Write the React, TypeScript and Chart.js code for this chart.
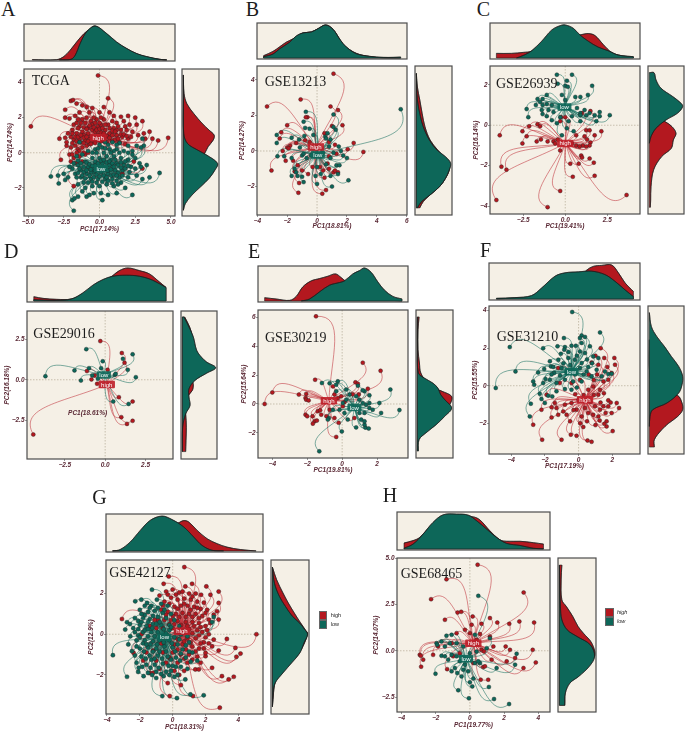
import React, { useEffect, useRef } from "react";
import { Chart, registerables } from "chart.js";

Chart.register(...registerables);

type P = number[][];

// ---------- A / TCGA ----------
const aHigh: P = [[-4.8,1.5],[-0.1,4.4],[0.6,3.1],[-2,2.95],[-1.85,3],[-1.6,2.8],[-2.4,2.45],[-1.2,2.7],[-0.9,2.6],[-0.5,2.55],[0.3,2.6],[-2.4,2],[-2.1,1.95],[-1.7,2.1],[-1.4,2.3],[-0.7,2.3],[0,2.3],[0.7,2.3],[1,2.1],[1.5,2.05],[2,2.1],[2.5,2],[3,1.8],[2.6,1.6],[2.1,1.6],[1.7,1.8],[1.2,1.7],[3.5,1.2],[3.1,1.1],[4.8,0.85],[4.1,0.7],[3.7,0.8],[3.2,0.8],[2.7,1],[2.3,1.2],[1.9,1.3],[1.5,1.3],[-2.8,0.8],[-2.4,0.85],[-2,0.9],[-1.8,0.75],[-1.6,1.1],[-1.9,1.3],[-1.4,1.5],[-1,1.7],[-0.6,1.8],[-0.2,1.9],[0.3,1.9],[0.6,1.6],[1,1.4],[0.7,1.1],[1.2,1],[1.6,0.9],[2,0.8],[0.9,0.7],[0.4,1.3],[-0.1,1.5],[-0.5,1.3],[-0.8,1.1],[-1.2,1.2],[-1.4,0.8],[-1,0.7],[-0.6,0.9],[-1.7,0.4],[-1.5,0.2],[-2,0.3],[-1.2,0.3],[-0.9,0.4],[-2.1,-0.1],[-1.8,-0.3],[-1.4,-0.2],[-2.7,-0.4],[-1.2,-0.5],[-2,-0.5],[-1.6,-0.6],[0.5,-1],[1.6,-1.2],[3,-0.9],[2.4,-0.5],[-1.8,-1.9],[-0.8,1.4],[-0.3,1.2],[0.1,1.6],[-0.4,0.6],[0.2,0.9],[0.5,0.6],[-0.7,0.5],[-1.1,1],[-1.5,1.4],[1.4,0.6],[1.8,0.5],[-1,-0.1],[-0.8,0],[-2.3,0.4],[-0.5,1.6],[0.9,1.8],[-1.2,1.9]];
const aHighCore: P = [[-1.9,1.1],[-1.7,0.9],[-1.5,0.9],[-1.3,1],[-1.1,0.85],[-0.9,0.9],[-0.7,0.75],[-0.5,0.75],[-0.3,0.85],[-0.1,1],[0.1,1.15],[0.3,1.1],[0.5,0.95],[0.7,0.85],[0.9,1],[1.1,0.75],[1.3,0.8],[1.5,1.05],[1.7,1.05],[1.9,0.95],[-1.6,0.65],[-1.3,0.6],[-1.1,0.55],[-0.8,0.65],[-0.6,0.5],[-0.3,0.55],[-0.1,0.7],[0.1,0.65],[0.3,0.7],[-1.8,1.6],[-1.6,1.7],[-1.3,1.7],[-1.1,1.45],[-0.9,1.35],[-0.7,1.55],[-0.4,1.45],[-0.2,1.3],[0,1.35],[0.2,1.4],[0.4,1.6],[0.7,1.4],[0.9,1.25],[1.2,1.3],[-0.3,1.7],[0,1.7],[0.1,2],[-0.4,2],[-0.9,2],[-1.5,1.9],[-2.2,1.1],[-2.3,0.6],[-1.9,0.55],[-1.4,0.1],[-1.1,0],[-1.6,0],[-1.9,-0.1],[1.1,1.2],[1.3,1.5],[2.2,0.9],[1.8,1.5]];
const aLow: P = [[-3.4,-1.35],[-2.9,-1.3],[-2.85,-1.75],[-2.5,-1.2],[-2.2,-1.4],[-2.4,-1.55],[-1.8,-3.3],[-1.9,-2.7],[-1.5,-2.5],[-1.75,-2.6],[-0.9,-2.5],[-0.7,-2.4],[0.2,-2.7],[0.1,-2.3],[0.6,-2.4],[1.2,-2.3],[1.8,-2],[2.3,-2.4],[4.2,-1.15],[3.5,-1.4],[3,-1.5],[2.6,-1.3],[2.9,-0.8],[3.3,-0.7],[-1.4,0.6],[0.4,0.6],[0.9,0.6],[1.4,0.55],[2,0.4],[2.6,0.4],[3,0.8],[3.1,0.4],[2.9,0.3],[2.3,0.1],[1.7,0.1],[1.2,0.2],[0.7,0.2],[0.2,0.3],[-0.3,0.2],[-0.8,0.1],[-1.2,-0.1],[-1.6,-0.2],[2.5,-0.3],[2,-0.4],[1.5,-0.3],[1,-0.2],[0.5,-0.2],[0,-0.3],[-0.5,-0.3],[-1,-0.5],[-1.5,-0.7],[-1.9,-0.9],[-2.1,-0.8],[2.8,-0.6],[2.2,-0.8],[1.7,-0.7],[1.2,-0.6],[0.7,-0.7],[0.2,-0.6],[-0.3,-0.7],[-0.8,-0.8],[-1.3,-1],[-1.7,-1.2],[-1.3,-1.4],[-0.9,-1.2],[-0.4,-1.1],[0.1,-1.1],[0.6,-1.2],[1.1,-1],[1.6,-1],[2.1,-1.1],[2.5,-0.9],[2,-1.4],[1.4,-1.4],[0.9,-1.5],[0.4,-1.5],[-0.1,-1.5],[-0.6,-1.5],[-1.1,-1.7],[-1.5,-1.8],[-1,-2],[-0.5,-1.9],[0,-1.9],[0.5,-1.8],[1,-1.9],[1.5,-1.7],[-0.4,-2.3],[-1.2,-2.2],[0.8,-0.4],[-0.2,0],[0.3,0],[1.3,-1.8],[-1.6,-1.4],[1,0.1],[2.3,-0.1],[-0.6,-1.1]];
const aLowCore: P = [[-1.8,-0.6],[-1.5,-0.45],[-1.3,-0.6],[-1.1,-0.8],[-0.9,-0.55],[-0.7,-0.65],[-0.5,-0.75],[-0.3,-0.5],[-0.1,-0.6],[0.1,-0.45],[0.3,-0.4],[0.5,-0.55],[0.7,-0.5],[0.9,-0.6],[1.1,-0.4],[1.3,-0.7],[1.5,-0.55],[1.8,-0.5],[-1.4,-0.9],[-1.1,-1.1],[-0.9,-1],[-0.6,-0.95],[-0.3,-1],[0,-0.9],[0.2,-0.85],[0.4,-0.95],[0.6,-1],[0.8,-0.95],[1,-0.8],[1.3,-1.15],[1.5,-0.85],[1.8,-0.9],[2,-0.75],[-1.5,-1.15],[-1.2,-1.3],[-1,-1.45],[-0.7,-1.3],[-0.4,-1.4],[-0.2,-1.25],[0,-1.35],[0.3,-1.3],[0.5,-1.4],[0.8,-1.3],[1,-1.25],[1.2,-1.3],[1.6,-1.3],[-0.8,-1.7],[-0.5,-1.65],[-0.2,-1.7],[0.2,-1.65],[0.6,-1.6],[0.9,-1.75],[1.2,-1.6],[-0.1,0.25],[0.4,0.25],[0.8,0],[1.4,0],[2,0],[-0.5,0],[0,0.45],[0.6,0.45],[1.2,0.45]];
const aX = [-5, -2.5, 0, 2.5, 5];
const aY = [-2, 0, 2, 4];
const aTopHigh: P = [[-4.7,0.01],[-3,0.01],[-2.5,0.1],[-2.05,0.29],[-1.6,0.53],[-1.1,0.77],[-0.65,0.92],[-0.3,1],[0.5,0.76],[1.2,0.51],[1.9,0.33],[2.6,0.18],[3.3,0.09],[4.2,0.02],[4.7,0]];
const aTopLow: P = [[-2.8,0],[-2,0.02],[-1.7,0.14],[-1.35,0.49],[-0.9,0.83],[-0.3,1],[0.5,0.78],[1.2,0.53],[1.9,0.34],[2.6,0.19],[3.3,0.1],[4.2,0.02],[4.7,0]];
const aSideHigh: P = [[0,4.43],[0.02,3.38],[0.1,2.8],[0.3,2.24],[0.55,1.67],[0.75,1.29],[0.9,1],[0.87,0.72],[0.72,0.34],[0.62,-0.04],[0.45,-0.42],[0.3,-1.18],[0.1,-1.94],[0.02,-2.7],[0,-3.27]];
const aSideLow: P = [[0,4.43],[0,3],[0.01,1.1],[0.12,0.53],[0.42,0.15],[0.68,-0.13],[1,-0.61],[0.92,-0.99],[0.75,-1.46],[0.5,-1.94],[0.25,-2.41],[0.06,-2.89],[0,-3.27]];

// ---------- B / GSE13213 ----------
const bHigh: P = [[1.1,4.35],[-1.1,2.9],[-3.35,2.5],[0.9,2.5],[1.4,2.3],[-0.65,1.9],[-0.75,1.9],[-2,1.45],[1,1.4],[1.7,1.45],[0.5,1],[-2.4,1.05],[-2.5,0.7],[-0.8,0.6],[-1.4,0.45],[-1.8,0.3],[-2,0.2],[-1.9,0.15],[-2.3,0],[-0.5,0.5],[0.8,0.5],[1.2,0.35],[2.45,0.45],[2.05,0.1],[3.1,-0.05],[1.3,-0.15],[-3.05,-1.1],[-2.1,-0.55],[-1.6,-0.55],[-1.3,-0.8],[-1,-1.1],[-1.5,-1.15],[-1.2,-1.8],[-1.25,-2.35],[-0.6,-1.3],[-0.3,-0.9],[0.2,-0.9],[0.4,-1.1],[0.5,-1.5],[0.6,-2.2],[0.35,-2.4],[1.1,-1.2],[1.4,-1.2],[1.2,-1.1],[0.8,-1],[0.7,-0.7],[0.8,-0.3]];
const bLow: P = [[5.6,2.35],[1.1,2.05],[1.25,1.2],[1.1,1.35],[-0.8,1.3],[-0.5,1.25],[0.7,1],[0.55,0.8],[-0.25,0.9],[-1.7,0.75],[-0.85,0.85],[-1.2,0.65],[-2.7,0.9],[-2.7,0.45],[-0.9,1.65],[-0.75,2.2],[-1.15,0.2],[0.6,0.7],[0.9,0.65],[0.8,0.25],[1.45,0.25],[1.6,0],[-2.65,-0.3],[-2.2,-0.3],[-1.7,-0.4],[-1,-0.25],[-0.9,-0.15],[-0.7,-0.4],[-0.4,-0.25],[0.4,-0.1],[1.1,-0.1],[1.75,-0.25],[2,-0.4],[0.9,-0.4],[1.3,-0.8],[1.5,-0.8],[-1.5,-1],[-1.4,-1.2],[-1.7,-1.4],[-1.3,-1.4],[-1,-1.45],[-0.9,-1.75],[0,-0.9],[-0.1,-1.4],[0,-1.85],[0.25,-1.3],[0.9,-1.4],[1.4,-1.3],[1,-2],[2.1,-1.65],[0.6,-0.75]];
const bX = [-4, -2, 0, 2, 4, 6];
const bY = [-2, 0, 2, 4];
const bTopHigh: P = [[-3.58,0.07],[-2.95,0.2],[-2.5,0.34],[-2.06,0.48],[-1.61,0.58],[-1.27,0.68],[-0.95,0.76],[-0.38,0.79],[0.07,0.89],[0.58,1],[1.07,0.87],[1.74,0.42],[2.19,0.25],[2.64,0.14],[3.09,0.08],[3.98,0.02],[4.87,0],[5.6,0]];
const bTopLow: P = [[-3.58,0.04],[-2.95,0.12],[-2.5,0.28],[-1.83,0.48],[-1.39,0.67],[-0.95,0.76],[-0.38,0.79],[0.07,0.89],[0.58,1],[1.07,0.87],[1.52,0.57],[1.97,0.33],[2.64,0.13],[3.53,0.05],[4.43,0.02],[5.1,0.02],[5.6,0.03]];
const bSideHigh: P = [[0,4.36],[0.03,3.6],[0.1,2.87],[0.17,2.1],[0.25,1.37],[0.4,0.62],[0.62,0.06],[0.95,-0.7],[0.96,-1.07],[0.85,-1.54],[0.68,-2.0],[0.4,-2.47],[0.2,-2.85],[0.1,-3.2]];
const bSideLow: P = [[0,4.36],[0.03,2.87],[0.12,1.93],[0.2,1.37],[0.38,0.62],[0.6,0.06],[0.85,-0.32],[1,-0.69],[0.96,-1.07],[0.85,-1.54],[0.68,-2],[0.4,-2.47],[0.15,-2.85],[0.03,-3.2]];

// ---------- C / GSE26939 ----------
const cHigh: P = [[-3.9,-0.5],[-2.55,-0.3],[-2.55,-0.9],[-3.8,-2.05],[-3.5,-2.2],[-4.1,-3.7],[-1.05,-4.05],[-0.3,-3.25],[3.65,-3.45],[0.45,-2.55],[1.75,-2.5],[0.3,-1.9],[0.8,-1.9],[1.7,-1.85],[1.45,-1.65],[0.95,-1.5],[1,-1.6],[-0.3,-1.25],[-2.15,-0.05],[-1.65,0.05],[-1.5,-0.05],[-2.3,-0.55],[-1.7,-0.8],[-1.45,-0.7],[-1.05,-0.8],[-0.7,-0.8],[-0.6,-0.9],[-0.45,-0.7],[-0.25,0.4],[0,0.4],[-0.3,0.2],[1.5,0.7],[1,0.6],[1.25,-0.25],[1.45,-0.25],[2.15,-0.3],[1.75,-0.5],[0.65,-0.5],[1.15,-0.55],[1.3,-0.7],[1.5,-0.85],[1.45,-1],[1.05,-1],[1.25,-1.05],[0.4,-0.9],[0.65,-1],[0.85,-1.05]];
const cLow: P = [[-0.5,2.5],[0.4,2.5],[0.1,2.2],[-0.45,2.05],[0,1.95],[1.6,1.95],[0.15,1.9],[1.35,1.5],[0.9,1.4],[-1.1,1.5],[-0.2,1.5],[0.6,1.4],[0,1.25],[-1.65,1.3],[-1.35,1.3],[-1.5,1.15],[-1.75,1],[-1.35,1],[-1.1,1.05],[-0.8,1],[-2.3,0.8],[-1.4,0.75],[-1,0.75],[-0.7,0.65],[0.7,0.85],[1.15,0.75],[0.9,0.6],[-2.2,0.4],[-1.35,0.55],[-1.1,0.45],[-0.8,0.25],[-0.5,0.1],[-0.3,0.4],[0.4,0.45],[0.9,0.5],[1.45,0.6],[1.75,0.5],[2.05,0.65],[2.05,0.45],[2.65,0.5],[1.25,0.5],[1.85,0.2],[0.1,-0.15],[-0.2,-0.5],[0.5,-0.3],[0.2,0.2],[0.9,0.2]];
const cX = [-2.5, 0, 2.5];
const cY = [-4, -2, 0, 2];
const cTopHigh: P = [[-4.1,0.14],[-3.2,0.14],[-2.5,0.17],[-2,0.21],[-1.4,0.45],[-0.8,0.6],[0,0.65],[0.87,0.7],[1.37,0.74],[1.77,0.68],[2.26,0.41],[2.76,0.17],[3.35,0.07],[4.06,0.03]];
const cTopLow: P = [[-2.9,0],[-2.4,0.1],[-2,0.22],[-1.4,0.51],[-0.8,0.85],[-0.3,0.98],[0,1],[0.48,0.9],[0.87,0.7],[1.37,0.51],[1.96,0.33],[2.56,0.22],[3.15,0.09],[4.06,0.04]];
const cSideHigh: P = [[0,1.25],[0.1,0.6],[0.3,0.3],[0.47,0.18],[0.68,-0.07],[0.8,-0.4],[0.72,-0.73],[0.66,-1.14],[0.37,-1.55],[0.13,-2.2],[0.05,-3.04],[0.04,-3.7],[0.03,-4.06]];
const cSideLow: P = [[0,2.6],[0.14,2.6],[0.2,2.24],[0.35,1.83],[0.7,1.42],[0.95,1.09],[1,0.92],[0.85,0.6],[0.5,0.26],[0.2,-0.15],[0.05,-0.56],[0,-0.89]];

// ---------- D / GSE29016 ----------
const dHigh: P = [[-0.3,2.4],[1.03,1.66],[1.2,1.05],[0.15,0.62],[-1.13,0.54],[-0.65,0.27],[-0.85,0.02],[-0.5,-0.25],[-4.45,-3.4],[0.85,-1.08],[1.7,-1.35],[1,-2.32],[1.7,-2.55],[1.35,-2.74]];
const dLow: P = [[-1.17,1.9],[1.7,1.58],[1.1,1.3],[-0.15,1.15],[-3.7,0.22],[-1.9,0.58],[-1,0.72],[-0.25,0.72],[1.4,0.62],[0.6,0.3],[0.65,0.37],[-0.8,0.27],[-1.5,-0.05],[-0.45,0.06],[1.9,0.16],[0.5,-1.35],[1.45,-1.5]];
const dX = [-2.5, 0, 2.5];
const dY = [-2.5, 0, 2.5];
const dTopHigh: P = [[-4.42,0.13],[-3.85,0.08],[-3,0.05],[-2.1,0.06],[-1.4,0.2],[-0.35,0.5],[0.47,0.77],[0.88,0.92],[1.4,1],[2.12,0.92],[2.74,0.82],[3.35,0.58],[3.77,0.41]];
const dTopLow: P = [[-4.42,0.04],[-3.85,0.03],[-3,0.02],[-2.1,0.06],[-1.4,0.24],[-0.76,0.48],[-0.14,0.65],[0.47,0.75],[1.3,0.78],[2.12,0.75],[2.94,0.63],[3.77,0.41]];
const dSideHigh: P = [[0.07,3.9],[0.22,3.28],[0.3,2.66],[0.35,1.83],[0.4,0.75],[0.3,-0.04],[0.33,-0.3],[0.3,-0.66],[0.14,-1.08],[0.05,-1.6],[0.1,-2.12],[0.12,-2.95],[0.11,-3.78],[0.1,-4.46]];
const dSideLow: P = [[0.05,3.9],[0.2,3.28],[0.33,2.66],[0.43,1.83],[0.57,1.41],[0.73,1.1],[1,0.75],[0.73,0.41],[0.38,-0.04],[0.2,-0.56],[0.2,-1.08],[0.23,-1.6],[0.1,-2.12],[0.01,-2.95],[0,-4.46]];

// ---------- E / GSE30219 ----------
const eHigh: P = [[-1.5,6.07],[1.18,2.86],[2.2,2.3],[-1.55,1.68],[-4,0.8],[-4.44,0],[-2.48,0.65],[-2.06,0.7],[-2.1,0.42],[-2.06,0.3],[-1.92,0.25],[0.76,1.5],[0.9,1.4],[-0.53,1.22],[1.47,1.06],[0.6,0.67],[0.95,0.65],[-0.44,0.65],[-0.25,0.42],[-0.06,0.53],[-2.1,-0.74],[-2,-0.85],[-1.4,-0.5],[-1.26,-0.44],[-1.2,-0.74],[-1.7,-0.85],[-1.58,-1.2],[-1.45,-1.15],[-1.68,-1.36],[-0.44,-0.97],[-0.2,-1.3],[-0.34,-2.28],[0.7,-0.97],[-0.9,-0.85],[-0.72,-0.4],[0.04,-0.16],[0.13,0.12]];
const eLow: P = [[-1.31,-3.28],[-0.02,-1.9],[0.8,-1.62],[1.33,-1.62],[1.52,-1.7],[1.28,-1.43],[-0.72,1.43],[-0.25,1.57],[-0.34,1.34],[-1.16,1.45],[2.76,1],[3.28,-0.42],[2.23,-0.62],[2.13,0.07],[1.56,0.6],[1.28,0.88],[1.18,0.95],[0.9,1.27],[0.23,1],[-0.34,0.88],[1.56,0.07],[1.37,-0.05],[1.56,-0.28],[1.75,-0.4],[1.18,0.07],[0.99,0.3],[1.28,-0.62],[1.09,-1.08],[0.13,-0.62],[-0.15,-0.4],[-0.53,-0.4],[-0.76,-0.97],[-0.82,-1.08],[0.8,0.53],[0.42,0.65],[0.23,0.3],[1.28,-1.2],[0.99,-0.62],[0.32,-1.08],[0.04,0.07]];
const eX = [-4, -2, 0, 2];
const eY = [-2, 0, 2, 4, 6];
const eTopHigh: P = [[-4.44,0.1],[-3.77,0.06],[-3,0.02],[-2.63,0.14],[-2.25,0.43],[-1.77,0.61],[-1.29,0.68],[-0.82,0.75],[-0.38,0.82],[-0.06,0.71],[0.19,0.6],[0.61,0.45],[1.18,0.3],[1.75,0.15],[2.32,0.05],[3.43,0]];
const eTopLow: P = [[-2.34,0],[-1.87,0.06],[-1.29,0.28],[-0.72,0.48],[-0.15,0.56],[0.13,0.61],[0.61,0.82],[0.99,0.92],[1.28,1],[1.66,0.87],[2.04,0.58],[2.42,0.33],[2.9,0.14],[3.43,0.06]];
const eSideHigh: P = [[0.05,6.03],[0.02,5.15],[0.02,3.76],[0.06,2.84],[0.1,2.15],[0.3,1.45],[0.5,1.1],[0.72,0.88],[1,0.53],[0.97,0.07],[0.75,-0.62],[0.3,-1.55],[0.03,-2.47],[0,-3.26]];
const eSideLow: P = [[0,6.03],[0,3.76],[0.03,2.15],[0.2,1.8],[0.45,1.45],[0.6,1.1],[0.68,0.65],[0.8,0.3],[1,-0.28],[0.8,-0.85],[0.55,-1.43],[0.25,-2],[0.05,-2.47],[0.03,-3.26]];

// ---------- F / GSE31210 ----------
const fHigh: P = [[-2.69,-2.08],[-2.16,-2.88],[-1.01,-2.88],[-0.46,-2.61],[-0.12,-2.67],[0.28,-2.2],[0.53,-2.92],[0.77,-2.99],[2.02,-2.42],[1.66,-2.17],[1.66,-1.9],[1.53,-2.03],[2.4,-1.19],[2.26,-0.92],[1.76,-0.78],[1.96,-1.46],[1.6,-1.46],[1.17,-1.64],[0.87,-1.55],[1.27,-1.28],[1.47,-1.1],[1.76,-1.1],[2.12,1.48],[2.16,1.12],[1.96,0.68],[1.31,2],[1.52,1.48],[1.17,1.12],[0.77,1.24],[1.47,0.23],[1.76,0.32],[1.27,-0.21],[1.17,-0.48],[0.87,-0.04],[0.57,-0.21],[0.08,0.32],[-0.42,0.14],[-1.21,0.94],[-1.11,0.14],[-1.9,-0.48],[-2.2,-1.28],[-1.41,-0.92],[-1.31,-1.19],[-1.6,-1.69],[-1.21,-1.55],[-0.91,-1.37],[-0.71,-1.55],[-0.12,-1.28],[-0.42,-0.92],[-0.81,-1.01],[0.18,-1.64],[0.57,-1.46],[0.97,-1.1],[0.38,-1.19],[0.9,0.3],[1.1,0.6],[1.7,1],[1,1.6],[0.6,0.6],[0.3,-0.5],[0.9,-0.5],[1.5,-0.4],[1.9,-0.9],[1.3,-0.9],[0.7,-0.85],[0,-0.75],[-0.3,-1.3],[-0.5,-1.9],[0.1,-2],[0.5,-1.9],[1,-2.1],[1.25,-1.85],[-1.6,-1.15],[-0.2,-0.45]];
const fLow: P = [[-0.38,3.93],[1.27,2.84],[0.18,2.68],[0.08,2.54],[0.38,2.6],[-4.08,2.06],[-2.1,2],[-0.87,2.54],[-0.81,2.06],[-0.42,2.13],[-0.16,2.13],[-1.25,2.1],[0.18,2.28],[0.67,2.1],[-0.85,1.92],[0.08,1.83],[0.38,1.74],[0.87,1.56],[1.17,1.48],[-1.7,1.3],[-1.2,1.39],[-0.61,1.48],[-0.22,1.39],[0.18,1.21],[-3.74,0.76],[-2.04,0.89],[-1.64,1.03],[-1.45,0.68],[-1.01,0.94],[0.08,0.94],[0.57,1],[1.07,0.85],[1.56,0.76],[1.76,0.62],[1.96,0.64],[-4.91,-0.12],[-2.63,0.05],[-2.69,0.23],[-2.1,0.14],[-1.96,0.36],[-1.7,0.32],[-1.31,0.14],[-0.81,0.32],[-0.32,0.23],[0.18,0.23],[-2.83,-0.96],[-2.89,-1.64],[-2.3,-0.43],[-2.2,-0.71],[-2,-0.92],[-1.8,-0.53],[-1.56,-0.57],[-1.31,-0.3],[-0.81,-0.18],[-0.42,-0.21],[0.48,0.76],[0.77,0.5],[1.37,0.5],[-0.9,1.2],[-0.5,1.1],[-0.1,1.6],[0.5,1.4],[0.8,1.2],[-1.5,1],[-0.7,0.7],[-0.2,0.6],[0.3,0.6],[-1.1,0.55],[-1.6,0.6],[-1.05,1.7],[-0.6,1.8],[-2.4,0.7],[-0.1,-0.1]];
const fX = [-4, -2, 0, 2];
const fY = [-2, 0, 2, 4];
const fTopHigh: P = [[-4.87,0],[-2.2,0.1],[-0.81,0.4],[0,0.6],[0.48,0.85],[0.87,0.96],[1.37,0.99],[1.96,1],[2.36,0.77],[2.76,0.47],[3.15,0.27],[3.25,0.22]];
const fTopLow: P = [[-4.87,0.02],[-3.78,0.04],[-2.79,0.1],[-2.2,0.32],[-1.4,0.67],[-0.81,0.77],[0,0.8],[0.77,0.82],[1.56,0.72],[2.16,0.52],[2.75,0.27],[3.25,0.07]];
const fSideHigh: P = [[0,2.45],[0.01,0.7],[0.15,-0.12],[0.85,-0.52],[0.98,-0.92],[1,-1.28],[0.85,-1.64],[0.58,-2],[0.37,-2.35],[0.15,-2.88],[0.15,-3.27]];
const fSideLow: P = [[0,3.9],[0.06,3.16],[0.22,2.63],[0.45,2.1],[0.66,1.56],[0.88,1.03],[1,0.5],[0.98,0.05],[0.88,-0.39],[0.53,-0.92],[0.1,-1.28],[0.02,-1.64],[0,-2.17]];

// ---------- G / GSE42127 ----------
const gHigh: P = [[0.71,3.3],[-0.24,2.84],[-0.55,2.48],[1.18,2.48],[2.05,2.35],[2.8,2.1],[0.77,2.35],[1.73,1.94],[2.3,1.94],[2.8,1.54],[2.7,1.13],[2.5,0.96],[2.2,0.72],[2.8,0.72],[5.1,0],[3.3,-0.23],[2.5,-0.26],[2.2,0],[3.82,-0.67],[4.13,-0.95],[3.88,-1.11],[2.4,-1.65],[3,-2.06],[3.41,-2.22],[3.72,-2.09],[2.87,-3.61],[1.24,-3.04],[-0.18,-3.04],[-3.09,0.75],[-2.38,-0.92],[-1.42,-1.9],[1.38,-1.73],[1.59,-1.73],[2,-1.08],[2,-0.92],[0,2.2],[-0.4,2.1],[0.4,2.05],[1,2],[1.4,2],[-0.1,1.8],[0.3,1.7],[0.7,1.75],[1.1,1.7],[1.5,1.6],[1.9,1.55],[-0.5,1.6],[-0.2,1.5],[0.1,1.35],[0.5,1.4],[0.9,1.4],[1.3,1.35],[1.7,1.25],[2.1,1.2],[-0.7,1.2],[-0.3,1.1],[0.2,1],[0.6,1.05],[1,1],[1.4,1],[1.8,0.9],[-0.9,0.7],[-0.5,0.7],[-0.1,0.7],[0.3,0.65],[0.8,0.6],[1.2,0.6],[1.6,0.55],[2,0.4],[-1.4,0.4],[-1,0.3],[0,0.3],[1,0.25],[1.5,0.2],[1.8,0.1],[-1.9,0],[-0.5,-0.2],[0.9,-0.2],[1.4,-0.2],[1.9,-0.4],[0.1,-0.5],[0.6,-0.5],[1.2,-0.6],[1.6,-0.7],[2.4,-0.6],[2.8,-0.8],[-1.2,-0.8],[-0.6,-0.9],[0,-0.9],[0.5,-1],[1,-1],[1.5,-1.1],[-1.8,-1.3],[-1,-1.3],[-0.4,-1.4],[0.3,-1.4],[0.9,-1.4],[-0.8,-1.7],[0.1,-1.8],[0.7,-1.8]];
const gHighCore: P = [[-0.8,1.9],[-0.3,1.95],[0.2,1.95],[0.6,2.1],[1.2,1.85],[-0.6,1.4],[0.3,1.25],[0.7,1.5],[1.1,1.2],[1.5,1.3],[2,1.05],[-0.4,0.95],[0,0.9],[0.4,0.85],[0.8,0.85],[1.2,0.85],[1.6,0.8],[2.3,0.55],[0.1,0.5],[0.5,0.45],[0.9,0.4],[1.3,0.4],[1.7,0.35],[2.1,0.2],[0.4,0.1],[1.2,0.05],[1.6,-0.05],[2,-0.15],[0.3,-0.25],[0.7,-0.35],[1.1,-0.4],[1.7,-0.45],[2.2,-0.45],[0.3,-0.75],[0.8,-0.75],[1.4,-0.85],[1.9,-0.7],[-0.2,-1.15],[0.7,-1.2],[1.2,-1.25],[1.7,-1.4],[-0.7,-0.45],[-1.6,-0.9],[-0.2,0.5],[-0.6,0.3],[-1.1,0.7],[-1.2,-1.9],[0.4,-2],[-0.3,-2.4],[0.5,-2.5]];
const gLow: P = [[-3.64,-1.03],[-2.78,-2.09],[-2.28,1.62],[-1.91,1.7],[-1.56,1.54],[-1.26,2.19],[-0.96,1.7],[-2.78,0.59],[-2.89,0.23],[-2.48,-0.83],[-2.58,-0.1],[-2.07,-1.65],[-1.77,-2.06],[-0.63,-3.04],[0.26,-3.14],[1.08,-2.96],[1.89,-3],[0.77,-2.22],[-0.55,-2.06],[-1.7,1.4],[-1.3,1.4],[-0.7,1.5],[-0.3,1.4],[-2,1.2],[-1.5,1.1],[-1.1,1.15],[-0.6,1.05],[-0.1,1],[-2.3,0.8],[-1.8,0.8],[-1.4,0.75],[-0.9,0.85],[-0.4,0.8],[0.1,0.7],[-2.6,0.5],[-2,0.45],[-1.6,0.4],[-1.2,0.5],[-0.7,0.45],[-0.2,0.45],[2.5,0.85],[2.4,0.6],[-2.3,0.1],[-1.8,0.1],[-1.3,0.1],[-0.9,0.1],[-0.4,0.05],[0.2,0.1],[-2.2,-0.3],[-1.7,-0.3],[-1.2,-0.35],[-0.8,-0.3],[-0.2,-0.3],[0.4,-0.25],[1,-0.4],[-2,-0.7],[-1.5,-0.65],[-1,-0.7],[-0.5,-0.6],[0,-0.65],[0.6,-0.75],[1.2,-0.9],[-1.9,-1.1],[-1.4,-1.05],[-0.9,-1.05],[-0.3,-1.1],[0.2,-1.15],[0.8,-1.15],[-2.2,-1.4],[-1.6,-1.5],[-1.1,-1.5],[-0.6,-1.45],[0,-1.55],[0.5,-1.6],[-1.5,-1.9],[-1,-1.85],[-0.4,-1.85],[0.3,-2],[-2.1,-0.05],[-1,-2.15],[-0.2,-2],[0.9,-0.1],[-1.5,-0.1],[-0.6,-0.1],[0.7,0.2],[-2.7,-0.5],[1.5,-1.3],[-1.3,-1.25],[-1.8,-0.45],[-0.1,-1.8],[0.9,-1.7],[-0.8,0.6],[-1.7,0.95],[-0.2,0.2]];
const gLowCore: P = [[-2.4,0.3],[-2.1,0.65],[-1.9,0.6],[-1.5,0.6],[-1.25,0.3],[-1,0.5],[-0.55,0.25],[-0.1,0.35],[-2.1,0.25],[-1.7,0.2],[-1.5,0.25],[-1.1,-0.1],[-0.7,-0.1],[-0.3,-0.1],[0.1,-0.15],[0.5,0],[-2,-0.15],[-1.6,-0.5],[-1.35,-0.5],[-0.95,-0.5],[-0.55,-0.4],[-0.05,-0.45],[0.3,-0.5],[0.8,-0.55],[-2.2,-0.6],[-1.75,-0.85],[-1.2,-0.85],[-0.8,-0.85],[-0.4,-0.85],[0.15,-0.85],[0.5,-0.95],[1,-0.85],[-2.3,-1.05],[-1.65,-1.2],[-1.1,-1.2],[-0.65,-1.2],[-0.1,-1.25],[0.45,-1.3],[1.1,-1.35],[-1.85,-1.6],[-1.35,-1.65],[-0.85,-1.65],[-0.25,-1.55],[0.2,-1.6],[-1.25,-2],[-0.7,-1.95],[0.1,-2.1],[-1.4,1.3],[-0.9,1.3],[-1.9,1],[-1.2,0.9],[-0.5,1.2],[-2.1,-1.85],[0.4,0.4]];
const gX = [-4, -2, 0, 2, 4];
const gY = [-2, 0, 2];
const gTopHigh: P = [[-3.66,0],[-2.6,0.03],[-1.56,0.2],[-0.55,0.5],[0.06,0.75],[0.33,0.8],[0.67,0.87],[0.98,0.83],[1.49,0.59],[2.1,0.35],[2.7,0.21],[3.31,0.11],[4.13,0.04],[5.08,0]];
const gTopLow: P = [[-3.66,0],[-3.2,0.04],[-2.58,0.26],[-1.97,0.59],[-1.36,0.88],[-0.65,1],[-0.04,0.9],[0.67,0.69],[1.28,0.4],[1.79,0.16],[2.4,0.02],[3.1,0]];
const gSideHigh: P = [[0,3.3],[0.12,2.68],[0.3,2.03],[0.45,1.54],[0.62,1.05],[0.8,0.56],[0.93,0.23],[1,0],[0.75,-0.92],[0.4,-1.4],[0.1,-2.2],[0,-3.56]];
const gSideLow: P = [[0,3.3],[0.06,2.5],[0.2,1.86],[0.37,1.37],[0.57,0.88],[0.77,0.56],[0.92,0.23],[1,0],[0.9,-0.42],[0.78,-0.92],[0.55,-1.4],[0.3,-1.9],[0.08,-2.39],[0.02,-2.88],[0,-3.56]];

// ---------- H / GSE68465 ----------
const hHigh: P = [[0.45,4.64],[-1.37,3.85],[-2.27,2.78],[3.14,3.14],[3.75,1.52],[2.89,1.58],[2.3,1.45],[1.6,1.52],[1.17,1.76],[0.68,1.45],[0.16,1.85],[-0.51,2.1],[-0.72,2.06],[-1.46,1.67],[0.1,1.4],[-0.29,1.13],[0,0.95],[0.59,0.9],[1.17,0.77],[-0.78,0.95],[3.67,0.05],[2.09,0.23],[2.34,0.05],[1.37,0.23],[0.68,0.05],[0.82,-0.04],[2.64,-0.39],[3.85,-0.63],[3.13,-0.93],[2.15,-0.57],[-2.93,-0.22],[-2.87,-0.27],[-2.73,-0.48],[-2.85,-0.86],[-2.15,-0.22],[-1.86,0.23],[-1.33,-0.99],[-0.59,-0.13],[0.78,-0.88],[0.88,-0.84],[0.2,-0.66],[1.07,-1.56],[0.63,-1.56],[-1.07,0.41],[-0.98,-0.3],[1.27,-0.48],[0.39,0.59]];
const hLow: P = [[0.49,2.96],[2.29,-2.87],[1.41,-2.6],[-0.06,-2.56],[-0.68,-2.13],[-2.01,-1.24],[0.14,-1.92],[0,-1.7],[0.2,-1.5],[1.11,-1.95],[-0.49,-1.38],[-0.74,-1.2],[-1.07,-1.11],[-0.39,-1.02],[-0.1,-1.11],[-1.37,0.81],[-1.07,0.86],[0.29,0.86],[1.17,0.68],[-1.95,0.41],[-1.91,0.32],[-1.66,0.5],[-1.46,0.23],[-1.17,0.41],[-0.78,0.41],[2.73,-0.16],[2.64,-0.75],[1.56,-0.93],[0.59,-0.66],[-1.66,-0.27],[-1.46,-0.3],[-1.27,-0.48],[-1.07,-0.22],[-0.78,-0.3],[-0.88,-0.93],[-0.59,-0.57],[-0.29,-0.75],[0.29,-0.66],[0.49,-0.57],[0.39,-0.04],[0.98,0.14],[-0.39,0.23],[0,-0.13]];
const hX = [-4, -2, 0, 2, 4];
const hY = [-2.5, 0, 2.5, 5];
const hTopHigh: P = [[-3.85,0.17],[-3.32,0.24],[-2.93,0.33],[-2.16,0.7],[-0.78,0.95],[0.2,0.92],[0.59,0.83],[1.17,0.52],[1.76,0.26],[2.15,0.22],[2.93,0.22],[3.71,0.18],[4.3,0.14]];
const hTopLow: P = [[-3.85,0.02],[-3.32,0.14],[-2.73,0.43],[-2.16,0.76],[-1.56,0.98],[-0.78,1],[-0.1,0.97],[0.39,0.81],[0.98,0.57],[1.56,0.33],[2.15,0.16],[2.93,0.1],[3.71,0.02],[4.3,0]];
const hSideHigh: P = [[0.07,4.62],[0.05,3.82],[0.07,2.74],[0.2,2.38],[0.38,1.85],[0.53,1.31],[0.68,0.95],[0.92,0.41],[1,-0.3],[0.45,-1.2],[0.18,-2],[0.15,-2.94]];
const hSideLow: P = [[0,4.62],[0.03,2.38],[0.07,1.67],[0.22,1.13],[0.5,0.77],[0.88,0.32],[1,-0.3],[0.85,-0.84],[0.55,-1.38],[0.3,-1.74],[0.17,-2.28],[0.15,-2.94]];

const seriesNames = ["high", "low"];
const RED = "#B3181F";
const GREEN = "#0D6759";
const RED_LINE = "rgba(190,45,55,0.78)";
const GREEN_LINE = "rgba(20,110,95,0.78)";
const PANEL_BG = "#F5F0E6";
const FRAME = "#4C4C4C";
const AXIS_TEXT = "#5B2A36";
const SANS = "'Liberation Sans', Arial, sans-serif";
const SERIF = "'Liberation Serif', 'Times New Roman', serif";

type Panel = {
  letter: string; name: string; xTitle: string; yTitle: string;
  high: P; low: P; xTicks: number[]; yTicks: number[]; xDigits: number; yDigits: number;
  topHigh: P; topLow: P; sideHigh: P; sideLow: P;
  highAt: number[]; lowAt: number[];
  plot: number[]; topY: number[]; sideX: number[];
  xr: number[]; yr: number[];
  letterAt: number[]; nameAt: number[];
  yTitleOff: number; xTitleOff: number; xTitleInside?: number[]; r?: number;
};

const PANELS: Panel[] = [
  { letter: "A", name: "TCGA", xTitle: "PC1(17.14%)", yTitle: "PC2(14.74%)", high: [...aHigh, ...aHighCore], low: [...aLow, ...aLowCore], xTicks: aX, yTicks: aY, xDigits: 1, yDigits: 0,
    topHigh: aTopHigh, topLow: aTopLow, sideHigh: aSideHigh, sideLow: aSideLow, highAt: [-0.1, 0.85], lowAt: [0.1, -0.9],
    plot: [24, 69, 175, 216], topY: [24, 61], sideX: [182, 219], xr: [-5.28, 5.28], yr: [-3.6, 4.77], letterAt: [1, 15.5], nameAt: [31.7, 86], yTitleOff: 14, xTitleOff: 13, r: 2.1 },
  { letter: "B", name: "GSE13213", xTitle: "PC1(18.81%)", yTitle: "PC2(14.27%)", high: bHigh, low: bLow, xTicks: bX, yTicks: bY, xDigits: 0, yDigits: 0,
    topHigh: bTopHigh, topLow: bTopLow, sideHigh: bSideHigh, sideLow: bSideLow, highAt: [-0.08, 0.22], lowAt: [0.05, -0.22],
    plot: [257, 66, 407.3, 215], topY: [23, 59], sideX: [415, 452], xr: [-4.02, 6.02], yr: [-3.6, 4.78], letterAt: [245.7, 15.7], nameAt: [264.7, 87], yTitleOff: 14.3, xTitleOff: 11.7 },
  { letter: "C", name: "GSE26939", xTitle: "PC1(19.41%)", yTitle: "PC2(16.14%)", high: cHigh, low: cLow, xTicks: cX, yTicks: cY, xDigits: 1, yDigits: 0,
    topHigh: cTopHigh, topLow: cTopLow, sideHigh: cSideHigh, sideLow: cSideLow, highAt: [0, -0.9], lowAt: [-0.05, 0.9],
    plot: [490, 66, 640, 214], topY: [22.7, 58.3], sideX: [647.7, 684], xr: [-4.48, 4.45], yr: [-4.39, 2.93], letterAt: [476.7, 16], nameAt: [496, 88.7], yTitleOff: 14, xTitleOff: 12.7 },
  { letter: "D", name: "GSE29016", xTitle: "PC1(18.61%)", yTitle: "PC2(16.18%)", high: dHigh, low: dLow, xTicks: dX, yTicks: dY, xDigits: 1, yDigits: 1,
    topHigh: dTopHigh, topLow: dTopLow, sideHigh: dSideHigh, sideLow: dSideLow, highAt: [0.1, -0.3], lowAt: [-0.08, 0.3],
    plot: [27.3, 310.7, 173.7, 458.3], topY: [266, 302.3], sideX: [181, 217.3], xr: [-4.84, 4.2], yr: [-4.92, 4.27], letterAt: [4, 257.3], nameAt: [33.3, 339], yTitleOff: 20, xTitleOff: 13, xTitleInside: [-1.09, -2.1] },
  { letter: "E", name: "GSE30219", xTitle: "PC1(19.81%)", yTitle: "PC2(15.64%)", high: eHigh, low: eLow, xTicks: eX, yTicks: eY, xDigits: 0, yDigits: 0,
    topHigh: eTopHigh, topLow: eTopLow, sideHigh: eSideHigh, sideLow: eSideLow, highAt: [-0.76, 0.23], lowAt: [0.7, -0.25],
    plot: [258.3, 310.3, 408.7, 458.3], topY: [266, 302.3], sideX: [416.3, 453.3], xr: [-4.82, 3.77], yr: [-3.74, 6.51], letterAt: [248, 257.3], nameAt: [265, 342.3], yTitleOff: 14, xTitleOff: 12.3 },
  { letter: "F", name: "GSE31210", xTitle: "PC1(17.19%)", yTitle: "PC2(15.55%)", high: fHigh, low: fLow, xTicks: fX, yTicks: fY, xDigits: 0, yDigits: 0,
    topHigh: fTopHigh, topLow: fTopLow, sideHigh: fSideHigh, sideLow: fSideLow, highAt: [0.38, -0.75], lowAt: [-0.42, 0.75],
    plot: [489.3, 306.3, 640, 454.3], topY: [262.7, 299.3], sideX: [647.7, 684], xr: [-5.31, 3.64], yr: [-3.64, 4.25], letterAt: [480, 257], nameAt: [496.7, 341.7], yTitleOff: 13.6, xTitleOff: 12.3 },
  { letter: "G", name: "GSE42127", xTitle: "PC1(18.31%)", yTitle: "PC2(12.9%)", high: [...gHigh, ...gHighCore], low: [...gLow, ...gLowCore], xTicks: gX, yTicks: gY, xDigits: 0, yDigits: 0,
    topHigh: gTopHigh, topLow: gTopLow, sideHigh: gSideHigh, sideLow: gSideLow, highAt: [0.57, 0.15], lowAt: [-0.5, -0.15],
    plot: [105.7, 560.3, 262.7, 714.7], topY: [514.3, 552.3], sideX: [270.7, 309], xr: [-4.06, 5.5], yr: [-3.92, 3.65], letterAt: [92.3, 504], nameAt: [109.3, 578], yTitleOff: 15, xTitleOff: 13.3, r: 2.1 },
  { letter: "H", name: "GSE68465", xTitle: "PC1(19.77%)", yTitle: "PC2(14.07%)", high: hHigh, low: hLow, xTicks: hX, yTicks: hY, xDigits: 0, yDigits: 1,
    topHigh: hTopHigh, topLow: hTopLow, sideHigh: hSideHigh, sideLow: hSideLow, highAt: [0.2, 0.41], lowAt: [-0.23, -0.43],
    plot: [397.3, 558, 550, 712.3], topY: [512, 550], sideX: [558, 595.7], xr: [-4.26, 4.68], yr: [-3.3, 5.0], letterAt: [382.7, 501.3], nameAt: [400.7, 578.3], yTitleOff: 20.6, xTitleOff: 13 },
];

// Frame and cream background of each plot box
const framePlugin = {
  id: "frame",
  beforeDraw(chart: any) {
    const a = chart.chartArea;
    chart.ctx.save();
    chart.ctx.fillStyle = PANEL_BG;
    chart.ctx.fillRect(a.left, a.top, a.width, a.height);
    chart.ctx.restore();
  },
  afterDraw(chart: any) {
    const a = chart.chartArea;
    const c = chart.ctx;
    c.save();
    c.strokeStyle = FRAME;
    c.lineWidth = 1.2;
    c.strokeRect(a.left, a.top, a.width, a.height);
    c.restore();
  },
};

// Filled density area under each dataset's own line element
const areaPlugin = {
  id: "area",
  beforeDatasetDraw(chart: any, args: any) {
    const ds = chart.data.datasets[args.index];
    const meta = args.meta;
    const line = meta.dataset;
    if (!line || !ds.areaColor) return;
    const c = chart.ctx;
    const pts = meta.data;
    line.updateControlPoints(chart.chartArea);
    c.save();
    c.beginPath();
    line.path(c);
    const last = pts[pts.length - 1];
    const first = pts[0];
    if (ds.sideways) {
      const bx = chart.scales.x.getPixelForValue(0);
      c.lineTo(bx, last.y);
      c.lineTo(bx, first.y);
    } else {
      const by = chart.scales.y.getPixelForValue(0);
      c.lineTo(last.x, by);
      c.lineTo(first.x, by);
    }
    c.closePath();
    c.fillStyle = ds.areaColor;
    c.fill();
    c.strokeStyle = "#1d1d1d";
    c.lineWidth = 0.6;
    c.stroke();
    c.restore();
  },
};

// Curved links from each group's centre to its points, reference lines, centre tags
const spiderPlugin = {
  id: "spider",
  beforeDatasetsDraw(chart: any) {
    const c = chart.ctx;
    const a = chart.chartArea;
    const sx = chart.scales.x;
    const sy = chart.scales.y;
    c.save();
    c.strokeStyle = "rgba(185,175,155,0.95)";
    c.lineWidth = 0.8;
    c.setLineDash([1.5, 1.5]);
    c.beginPath();
    c.moveTo(sx.getPixelForValue(0), a.top);
    c.lineTo(sx.getPixelForValue(0), a.bottom);
    c.moveTo(a.left, sy.getPixelForValue(0));
    c.lineTo(a.right, sy.getPixelForValue(0));
    c.stroke();
    c.setLineDash([]);
    c.lineWidth = 0.7;
    [1, 0].forEach((i) => {
      const ds = chart.data.datasets[i];
      const meta = chart.getDatasetMeta(i);
      const cx = sx.getPixelForValue(ds.center[0]);
      const cy = sy.getPixelForValue(ds.center[1]);
      c.strokeStyle = ds.linkColor;
      meta.data.forEach((pt: any) => {
        const dx = pt.x - cx;
        const dy = pt.y - cy;
        // bow to the right of the direction of travel, hooking in at the end
        const nx = -dy;
        const ny = dx;
        c.beginPath();
        c.moveTo(cx, cy);
        c.bezierCurveTo(
          cx + dx * 0.5 + nx * 0.1,
          cy + dy * 0.5 + ny * 0.1,
          cx + dx * 0.97 + nx * 0.36,
          cy + dy * 0.97 + ny * 0.36,
          pt.x,
          pt.y
        );
        c.stroke();
      });
    });
    c.restore();
  },
  afterDatasetsDraw(chart: any) {
    const c = chart.ctx;
    const sx = chart.scales.x;
    const sy = chart.scales.y;
    c.save();
    chart.data.datasets.forEach((ds: any) => {
      const x = sx.getPixelForValue(ds.center[0]);
      const y = sy.getPixelForValue(ds.center[1]);
      c.font = `6px ${SANS}`;
      const w = c.measureText(ds.label).width + 5;
      const h = 7.5;
      c.beginPath();
      c.roundRect(x - w / 2, y - h / 2, w, h, 1);
      c.fillStyle = ds.label === "high" ? "rgba(190,30,40,0.9)" : "rgba(13,103,89,0.9)";
      c.fill();
      c.fillStyle = "#fff";
      c.textAlign = "center";
      c.textBaseline = "middle";
      c.fillText(ds.label, x, y + 0.3);
    });
    const inside = chart.options.plugins.spider?.inside;
    if (inside) {
      c.font = `italic bold 6.5px ${SANS}`;
      c.fillStyle = AXIS_TEXT;
      c.textAlign = "center";
      c.textBaseline = "middle";
      c.fillText(inside.text, sx.getPixelForValue(inside.at[0]), sy.getPixelForValue(inside.at[1]));
    }
    c.restore();
  },
};

const toPts = (p: P) => p.map(([x, y]) => ({ x, y }));
const sidePts = (p: P) => p.map(([h, y]) => ({ x: h, y }));
const fmt = (d: number) => (v: any) => Number(v).toFixed(d).replace("-", "\u2212");

const LEFT = 26;
const BOTTOM = 20;
const PAD = 8;
const AX_LH = 7.8;

function scatterConfig(p: Panel): any {
  const axisFont = { family: SANS, size: 6.5, weight: "bold", style: "italic" };
  const radius = p.r ?? 2;
  const mk = (label: string, pts: P, color: string, link: string, center: number[]) => ({
    label, data: toPts(pts), center, linkColor: link,
    backgroundColor: color, borderColor: "#222", borderWidth: 0.4, pointRadius: radius,
  });
  return {
    type: "scatter",
    data: {
      datasets: [
        mk(seriesNames[1], p.low, GREEN, GREEN_LINE, p.lowAt),
        mk(seriesNames[0], p.high, RED, RED_LINE, p.highAt),
      ],
    },
    plugins: [framePlugin, spiderPlugin],
    options: {
      animation: false, responsive: false, maintainAspectRatio: false, events: [],
      layout: { padding: { top: PAD, right: PAD, left: 0, bottom: 0 } },
      plugins: {
        legend: { display: false }, tooltip: { enabled: false },
        spider: { inside: p.xTitleInside ? { text: p.xTitle, at: p.xTitleInside } : null },
      },
      scales: {
        x: {
          type: "linear", min: p.xr[0], max: p.xr[1],
          afterBuildTicks: (s: any) => { s.ticks = p.xTicks.map((value) => ({ value })); },
          afterFit: (s: any) => { s.height = BOTTOM; },
          grid: { display: true, drawOnChartArea: false, drawTicks: true, tickLength: 2, color: "#555", lineWidth: 0.6 },
          border: { display: false },
          ticks: { font: axisFont, color: AXIS_TEXT, padding: 0.5, maxRotation: 0, autoSkip: false, callback: fmt(p.xDigits) },
          title: {
            display: !p.xTitleInside, text: p.xTitle, font: axisFont, color: AXIS_TEXT,
            padding: { top: 0, bottom: Math.max(0, BOTTOM - p.xTitleOff - AX_LH / 2) },
          },
        },
        y: {
          type: "linear", min: p.yr[0], max: p.yr[1],
          afterBuildTicks: (s: any) => { s.ticks = p.yTicks.map((value) => ({ value })); },
          afterFit: (s: any) => { s.width = LEFT; },
          grid: { display: true, drawOnChartArea: false, drawTicks: true, tickLength: 2, color: "#555", lineWidth: 0.6 },
          border: { display: false },
          ticks: { font: axisFont, color: AXIS_TEXT, padding: 0.5, autoSkip: false, callback: fmt(p.yDigits) },
          title: {
            display: true, text: p.yTitle, font: axisFont, color: AXIS_TEXT,
            padding: { top: Math.max(0, LEFT - p.yTitleOff - AX_LH / 2), bottom: 0 },
          },
        },
      },
    },
  };
}

function densityConfig(high: any[], low: any[], sideways: boolean, xr: number[], yr: number[]): any {
  const mk = (label: string, data: any[], areaColor: string) => ({
    label, data, areaColor, sideways, showLine: true, tension: 0.35,
    borderColor: "#1d1d1d", borderWidth: 0.6, pointRadius: 0, fill: false,
  });
  return {
    type: "scatter",
    data: { datasets: [mk(seriesNames[1], low, GREEN), mk(seriesNames[0], high, RED)] },
    plugins: [framePlugin, areaPlugin],
    options: {
      animation: false, responsive: false, maintainAspectRatio: false, events: [],
      layout: { padding: 2 },
      plugins: { legend: { display: false }, tooltip: { enabled: false } },
      scales: {
        x: { type: "linear", display: false, min: xr[0], max: xr[1] },
        y: { type: "linear", display: false, min: yr[0], max: yr[1] },
      },
    },
  };
}

function ChartBox({ left, top, width, height, make }: { left: number; top: number; width: number; height: number; make: () => any }) {
  const ref = useRef<HTMLCanvasElement>(null);
  useEffect(() => {
    const chart = new Chart(ref.current as HTMLCanvasElement, make());
    return () => chart.destroy();
  }, []);
  return (
    <canvas
      ref={ref}
      width={Math.round(width)}
      height={Math.round(height)}
      style={{ position: "absolute", left, top, width: Math.round(width), height: Math.round(height) }}
    />
  );
}

function Serif({ text, size, at }: { text: string; size: number; at: number[] }) {
  return (
    <div style={{ position: "absolute", left: at[0], top: at[1] - 0.84 * size, font: `${size}px/1 ${SERIF}`, color: "#1c1c1c", whiteSpace: "nowrap", zIndex: 2 }}>
      {text}
    </div>
  );
}

function Legend({ left, top, italic }: { left: number; top: number; italic: boolean }) {
  const swatch = (color: string, y: number) => (
    <div style={{ position: "absolute", left, top: top + y, width: 8.5, height: 9, background: color, border: "0.5px solid #666", boxSizing: "border-box" }} />
  );
  const text = (t: string, y: number) => (
    <div style={{ position: "absolute", left: left + 12, top: top + y, font: `${italic ? "italic " : ""}5.5px/9px ${SANS}`, color: "#222" }}>{t}</div>
  );
  return (
    <>
      {swatch(RED, 0)}{swatch(GREEN, 9)}
      {text(seriesNames[0], 0)}{text(seriesNames[1], 9)}
    </>
  );
}

export default function App() {
  return (
    <div style={{ position: "absolute", left: 0, top: 0, width: 685, height: 733, background: "#fff", overflow: "hidden" }}>
      {PANELS.map((p) => {
        const [l, t, r, b] = p.plot;
        return (
          <React.Fragment key={p.letter}>
            <Serif text={p.letter} size={20} at={p.letterAt} />
            <Serif text={p.name} size={14} at={p.nameAt} />
            <ChartBox
              left={l - 2} top={p.topY[0] - 2} width={r - l + 4} height={p.topY[1] - p.topY[0] + 4}
              make={() => densityConfig(toPts(p.topHigh), toPts(p.topLow), false, p.xr, [-0.03, 1.06])}
            />
            <ChartBox
              left={p.sideX[0] - 2} top={t - 2} width={p.sideX[1] - p.sideX[0] + 4} height={b - t + 4}
              make={() => densityConfig(sidePts(p.sideHigh), sidePts(p.sideLow), true, [-0.04, 1.04], p.yr)}
            />
            <ChartBox
              left={l - LEFT} top={t - PAD} width={r - l + LEFT + PAD} height={b - t + PAD + BOTTOM}
              make={() => scatterConfig(p)}
            />
          </React.Fragment>
        );
      })}
      <Legend left={318.7} top={610.7} italic={false} />
      <Legend left={605} top={608} italic={true} />
    </div>
  );
}
